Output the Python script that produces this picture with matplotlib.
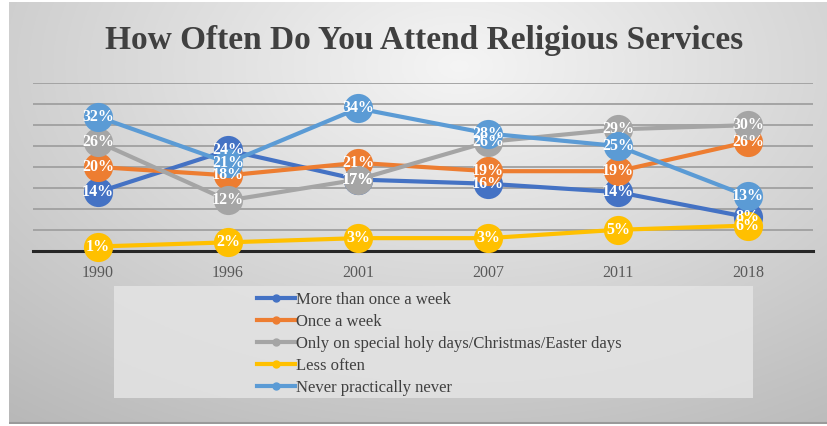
import numpy as np
import matplotlib
matplotlib.use("Agg")
import matplotlib.pyplot as plt
from matplotlib.lines import Line2D
from matplotlib.patches import Rectangle

# data
years = ["1990", "1996", "2001", "2007", "2011", "2018"]
more_than_weekly = [14, 24, 17, 16, 14, 8]
once_a_week = [20, 18, 21, 19, 19, 26]
holy_days_only = [26, 12, 17, 26, 29, 30]
less_often = [1, 2, 3, 3, 5, 6]
never = [32, 21, 34, 28, 25, 13]

series_names = ["More than once a week", "Once a week",
                "Only on special holy days/Christmas/Easter days",
                "Less often", "Never practically never"]
series_values = [more_than_weekly, once_a_week, holy_days_only, less_often, never]
series_colors = ["#4472C4", "#ED7D31", "#A5A5A5", "#FFC000", "#5B9BD5"]

W, H = 828, 426
plt.rcParams['font.family'] = ['Liberation Serif', 'DejaVu Serif']

fig = plt.figure(figsize=(W / 100, H / 100), dpi=100)
fig.patch.set_facecolor("white")

# background panel with a soft radial gradient
bg = fig.add_axes([9 / W, 2 / H, 819 / W, 422 / H])
bg.set_axis_off()
gx, gy = np.meshgrid(np.linspace(0, 1, 400), np.linspace(0, 1, 200))
r = np.sqrt(((gx - 0.55) / 0.75) ** 2 + ((gy - 0.15) / 0.9) ** 2)
shade = 0.96 - 0.2 * np.clip(r, 0, 1.2)
bg.imshow(np.dstack([shade] * 3), extent=[0, 1, 0, 1], aspect="auto", origin="upper")
bg.set_xlim(0, 1)
bg.set_ylim(0, 1)
bg.plot([0, 1], [0.003, 0.003], color="#9a9a9a", lw=1.5)

# legend box
bg.add_patch(Rectangle(((114 - 9) / 819, (424 - 398) / 422), 639 / 819, 112 / 422,
                       facecolor="#e4e4e4", edgecolor="none", alpha=0.85))

fig.text(424 / W, 1 - 40 / H, "How Often Do You Attend Religious Services",
         ha="center", va="center", fontsize=24, fontweight="bold", color="#404040")

ax = fig.add_axes([33 / W, (H - 250.7) / H, 780 / W, 167.4 / H])
ax.set_facecolor("none")
x = np.arange(len(years))
ax.set_xlim(-0.5, len(years) - 0.5)
ax.set_ylim(0, 40)
ax.set_yticks(np.arange(5, 41, 5))
ax.yaxis.grid(True, color="#a0a0a0", lw=1.3)
ax.set_axisbelow(True)
ax.tick_params(left=False, labelleft=False, bottom=False, labelsize=11.5,
               colors="#595959", pad=7)
ax.set_xticks(x)
ax.set_xticklabels(years)
for s in ["top", "right", "left"]:
    ax.spines[s].set_visible(False)
ax.spines["bottom"].set_color("#262626")
ax.spines["bottom"].set_linewidth(2.2)

for i, (vals, col) in enumerate(zip(series_values, series_colors)):
    ax.plot(x, vals, color=col, lw=3, marker="o", markersize=21,
            markeredgewidth=0, zorder=3 + i, clip_on=False)

for vals in series_values:
    for xi, v in zip(x, vals):
        ax.text(xi, v, f"{v}%", ha="center", va="center", color="white",
                fontsize=11.5, fontweight="bold", zorder=20)

handles = [Line2D([0], [0], color=c, lw=3, marker="o", markersize=5) for c in series_colors]
fig.legend(handles, series_names, loc="upper left",
           bbox_to_anchor=(245 / W, 1 - 280 / H), frameon=False,
           fontsize=12, handlelength=2.3, handletextpad=0.05,
           labelspacing=0.36, labelcolor="#404040", borderaxespad=0.3)

fig.savefig("out.png", dpi=100)
